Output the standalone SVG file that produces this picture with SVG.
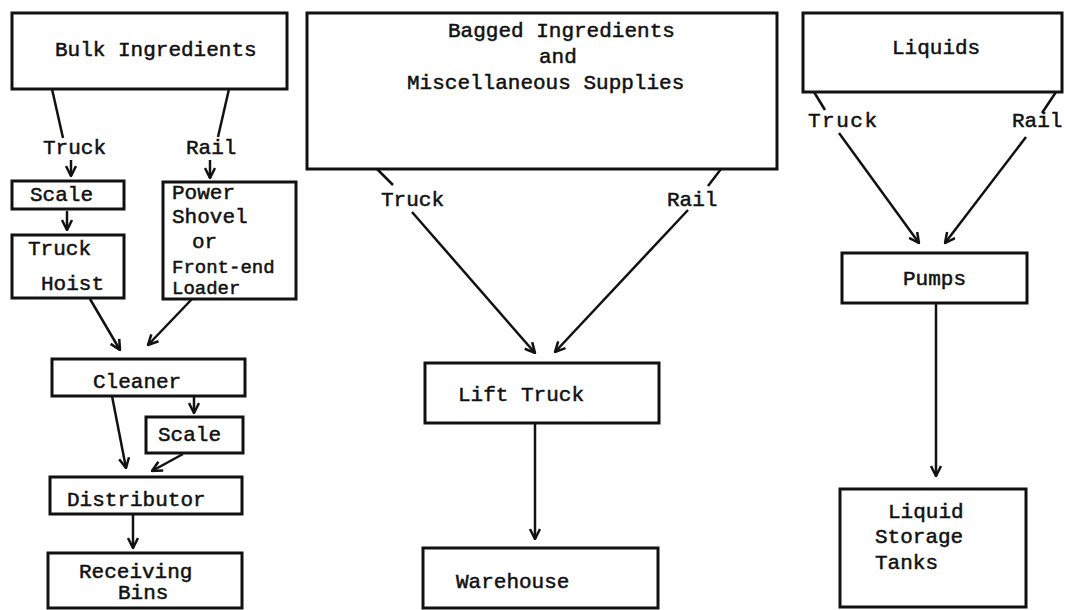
<svg xmlns="http://www.w3.org/2000/svg" width="1066" height="610" viewBox="0 0 1066 610">
<style>
.box{fill:none;stroke:#111;stroke-width:3}
.ln{fill:none;stroke:#111;stroke-width:2.5}
.ar{fill:none;stroke:#111;stroke-width:2.5;marker-end:url(#ah)}
text{font-family:"Liberation Mono","Courier New",monospace;font-size:21px;fill:#111;stroke:#111;stroke-width:0.5}
.sm{font-size:19px}
</style>
<defs>
<marker id="ah" viewBox="0 0 12 12" refX="11" refY="6" markerWidth="12" markerHeight="12" markerUnits="userSpaceOnUse" orient="auto">
<path d="M1,1 L11,6 L1,11" fill="none" stroke="#111" stroke-width="2.5"/>
</marker>
</defs>
<rect width="1066" height="610" fill="#fff"/>
<g id="connectors">
<line class="ln" x1="52" y1="89" x2="63" y2="138"/>
<line class="ln" x1="229" y1="89" x2="218" y2="137"/>
<line class="ar" x1="71" y1="160" x2="71" y2="176"/>
<line class="ar" x1="210" y1="160" x2="210" y2="178"/>
<line class="ar" x1="67" y1="211" x2="67" y2="230"/>
<line class="ar" x1="90" y1="299" x2="120" y2="350"/>
<line class="ar" x1="192" y1="299" x2="148" y2="345"/>
<line class="ar" x1="194" y1="396" x2="194" y2="413"/>
<line class="ar" x1="112" y1="396" x2="126" y2="468"/>
<line class="ar" x1="183" y1="454" x2="152" y2="471"/>
<line class="ar" x1="133" y1="514" x2="133" y2="548"/>
<line class="ln" x1="377" y1="169" x2="393" y2="185"/>
<line class="ln" x1="721" y1="169" x2="708" y2="186"/>
<line class="ar" x1="412" y1="212" x2="535" y2="353"/>
<line class="ar" x1="688" y1="210" x2="555" y2="352"/>
<line class="ar" x1="535" y1="423" x2="535" y2="539"/>
<line class="ln" x1="814" y1="92" x2="825" y2="110"/>
<line class="ln" x1="1056" y1="92" x2="1042" y2="113"/>
<line class="ar" x1="839" y1="133" x2="919" y2="243"/>
<line class="ar" x1="1026" y1="137" x2="945" y2="243"/>
<line class="ar" x1="936" y1="303" x2="936" y2="476"/>
</g>
<g id="bulk"><rect class="box" x="12" y="13" width="275" height="76"/><text x="55" y="56">Bulk Ingredients</text></g>
<g id="truck-label-1"><text x="43" y="154">Truck</text></g>
<g id="rail-label-1"><text x="186" y="154">Rail</text></g>
<g id="scale1"><rect class="box" x="12" y="181" width="112" height="28"/><text x="30" y="201">Scale</text></g>
<g id="hoist"><rect class="box" x="12" y="235" width="112" height="63"/><text x="28" y="255">Truck</text><text x="41" y="290">Hoist</text></g>
<g id="shovel"><rect class="box" x="163" y="182" width="133" height="117"/><text x="172" y="199">Power</text><text x="172" y="223">Shovel</text><text x="192" y="248">or</text><text class="sm" x="172" y="273">Front-end</text><text class="sm" x="172" y="294">Loader</text></g>
<g id="cleaner"><rect class="box" x="52" y="359" width="193" height="37"/><text x="93" y="388">Cleaner</text></g>
<g id="scale2"><rect class="box" x="146" y="417" width="97" height="36"/><text x="158" y="441">Scale</text></g>
<g id="distributor"><rect class="box" x="50" y="477" width="192" height="37"/><text x="67" y="506">Distributor</text></g>
<g id="bins"><rect class="box" x="48" y="553" width="194" height="55"/><text x="79" y="578">Receiving</text><text x="118" y="599">Bins</text></g>
<g id="bagged"><rect class="box" x="307" y="13" width="470" height="156"/><text x="448" y="37">Bagged Ingredients</text><text x="539" y="63">and</text><text x="407" y="89">Miscellaneous Supplies</text></g>
<g id="truck-label-2"><text x="381" y="206">Truck</text></g>
<g id="rail-label-2"><text x="667" y="206">Rail</text></g>
<g id="lift"><rect class="box" x="425" y="363" width="234" height="60"/><text x="458" y="401">Lift Truck</text></g>
<g id="warehouse"><rect class="box" x="423" y="548" width="235" height="60"/><text x="456" y="588">Warehouse</text></g>
<g id="liquids"><rect class="box" x="803" y="13" width="259" height="79"/><text x="892" y="54">Liquids</text></g>
<g id="truck-label-3"><text x="808" y="127" letter-spacing="1.5">Truck</text></g>
<g id="rail-label-3"><text x="1012" y="127">Rail</text></g>
<g id="pumps"><rect class="box" x="842" y="253" width="185" height="50"/><text x="903" y="285">Pumps</text></g>
<g id="tanks"><rect class="box" x="840" y="489" width="186" height="118"/><text x="888" y="518">Liquid</text><text x="875" y="543">Storage</text><text x="875" y="569">Tanks</text></g>
</svg>
